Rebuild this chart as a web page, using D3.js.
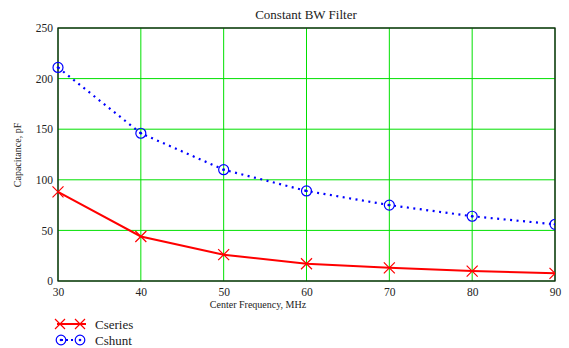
<!DOCTYPE html>
<html>
<head>
<meta charset="utf-8">
<script src="https://cdn.jsdelivr.net/npm/d3@7"></script>
<style>
  html, body { margin: 0; padding: 0; background: #fff; }
  svg text { font-family: "Liberation Serif", Tinos, "Times New Roman", Times, "DejaVu Serif", serif !important; }
</style>
</head>
<body>
<svg id="chart" width="569" height="348"></svg>
<script>
// Center frequency (MHz) and capacitance values (pF)
const frequencies = [30, 40, 50, 60, 70, 80, 90];
const cSeries = [88, 44, 26, 17, 13, 9.8, 7.6];
const cShunt = [211, 146, 110, 89, 75, 64, 56];
const xTicks = [30, 40, 50, 60, 70, 80, 90];
const yTicks = [0, 50, 100, 150, 200, 250];
const seriesNames = ["Cseries", "Cshunt"];

const svg = d3.select("#chart");
const margin = { left: 58, right: 14, top: 28, bottom: 67 };
const W = 569, H = 348;
const x = d3.scaleLinear().domain([30, 90]).range([margin.left, W - margin.right]);
const y = d3.scaleLinear().domain([0, 250]).range([H - margin.bottom, margin.top]);

const green = "#00e000";

// grid
const grid = svg.append("g");
grid.selectAll("line.v").data(xTicks).join("line")
  .attr("x1", d => x(d)).attr("x2", d => x(d))
  .attr("y1", y(0)).attr("y2", y(250))
  .attr("stroke", green).attr("stroke-width", 1);
grid.selectAll("line.h").data(yTicks).join("line")
  .attr("x1", x(30)).attr("x2", x(90))
  .attr("y1", d => y(d)).attr("y2", d => y(d))
  .attr("stroke", green).attr("stroke-width", 1);

// frame
svg.append("rect")
  .attr("x", x(30)).attr("y", y(250))
  .attr("width", x(90) - x(30)).attr("height", y(0) - y(250))
  .attr("fill", "none").attr("stroke", "#1a1a1a").attr("stroke-width", 1.3);

// axes (labels only)
const xAxis = d3.axisBottom(x).tickValues(xTicks).tickSize(0).tickPadding(7).tickFormat(d3.format("d"));
const gx = svg.append("g").attr("transform", `translate(0,${y(0)})`).call(xAxis);
gx.select(".domain").remove();
gx.selectAll("text").attr("font-size", 11.5).attr("fill", "#222");

const yAxis = d3.axisLeft(y).tickValues(yTicks).tickSize(0).tickPadding(5).tickFormat(d3.format("d"));
const gy = svg.append("g").attr("transform", `translate(${x(30)},0)`).call(yAxis);
gy.select(".domain").remove();
gy.selectAll("text").attr("font-size", 11.5).attr("fill", "#222");

// titles
svg.append("text").attr("x", 306).attr("y", 19).attr("text-anchor", "middle")
  .attr("font-size", 13).attr("fill", "#222").text("Constant BW Filter");
svg.append("text").attr("x", 258).attr("y", 308).attr("text-anchor", "middle")
  .attr("font-size", 10).attr("fill", "#222").text("Center Frequency, MHz");
svg.append("text").attr("transform", "translate(21,155) rotate(-90)").attr("text-anchor", "middle")
  .attr("font-size", 10).attr("fill", "#222").text("Capacitance, pF");

svg.append("clipPath").attr("id", "plotclip").append("rect")
  .attr("x", x(30) - 8).attr("y", y(250)).attr("width", x(90) - x(30) + 8).attr("height", y(0) - y(250) + 1);

const plot = svg.append("g").attr("clip-path", "url(#plotclip)");

const line = d3.line().x(d => x(d[0])).y(d => y(d[1]));
const seriesPts = frequencies.map((f, i) => [f, cSeries[i]]);
const shuntPts = frequencies.map((f, i) => [f, cShunt[i]]);

// Cshunt dotted blue
plot.append("path").datum(shuntPts).attr("d", line)
  .attr("fill", "none").attr("stroke", "#0000ff").attr("stroke-width", 2.2)
  .attr("stroke-dasharray", "2,4.5").attr("stroke-linecap", "butt");
// Cseries solid red
plot.append("path").datum(seriesPts).attr("d", line)
  .attr("fill", "none").attr("stroke", "#ff0000").attr("stroke-width", 2);

function xMark(g, cx, cy, s, color) {
  g.append("path").attr("d", `M${cx - s},${cy - s}L${cx + s},${cy + s}M${cx - s},${cy + s}L${cx + s},${cy - s}`)
    .attr("stroke", color).attr("stroke-width", 1.2).attr("fill", "none");
}
function oMark(g, cx, cy, r, color) {
  g.append("circle").attr("cx", cx).attr("cy", cy).attr("r", r)
    .attr("fill", "none").attr("stroke", color).attr("stroke-width", 1.2);
  g.append("circle").attr("cx", cx).attr("cy", cy).attr("r", 1.3).attr("fill", color);
}

seriesPts.forEach(p => xMark(plot, x(p[0]), y(p[1]), 5.5, "#ff0000"));
shuntPts.forEach(p => oMark(plot, x(p[0]), y(p[1]), 5, "#0000ff"));

// legend
const lg = svg.append("g");
const legendY = [324, 340];
seriesNames.forEach((name, i) => {
  const ly = legendY[i];
  if (i === 0) {
    lg.append("line").attr("x1", 57).attr("x2", 86).attr("y1", ly).attr("y2", ly)
      .attr("stroke", "#ff0000").attr("stroke-width", 2);
    xMark(lg, 60, ly, 5, "#ff0000");
    xMark(lg, 80, ly, 5, "#ff0000");
  } else {
    lg.append("line").attr("x1", 62).attr("x2", 76).attr("y1", ly).attr("y2", ly)
      .attr("stroke", "#0000ff").attr("stroke-width", 2).attr("stroke-dasharray", "2,3").attr("stroke-dashoffset", -4);
    oMark(lg, 61, ly, 4.8, "#0000ff");
    oMark(lg, 80, ly, 4.8, "#0000ff");
  }
  lg.append("text").attr("x", 95).attr("y", ly + 4.5).attr("font-size", 13).attr("fill", "#222").text(name);
});
</script>
</body>
</html>
